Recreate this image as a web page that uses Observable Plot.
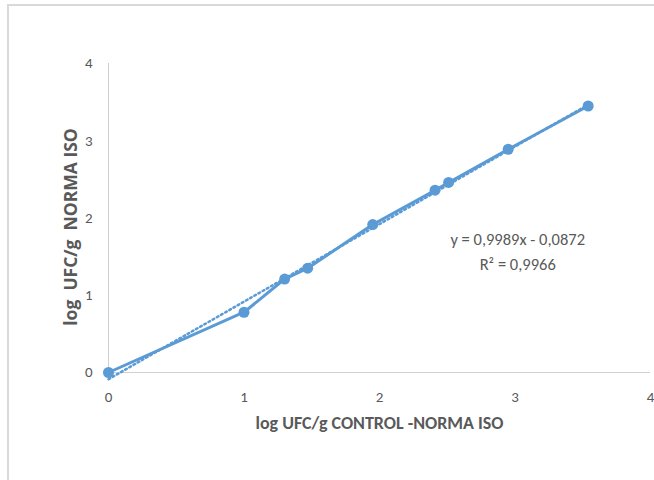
<!DOCTYPE html>
<html>
<head>
<meta charset="utf-8">
<script src="https://cdn.jsdelivr.net/npm/d3@7"></script>
<script src="https://cdn.jsdelivr.net/npm/@observablehq/plot@0.6"></script>
<style>
  html, body { margin: 0; padding: 0; background: #fff; }
  #wrap { position: relative; width: 654px; height: 480px; overflow: hidden; }
  #border { position: absolute; left: 7px; top: 4px; width: 700px; height: 520px; border: 2px solid #d9d9d9; box-sizing: border-box; }
  #chart { position: absolute; left: 0; top: 0; }
</style>
</head>
<body>
<div id="wrap"><div id="border"></div><div id="chart"></div></div>
<script>
// Data
const controlLog = [0, 1.00, 1.30, 1.47, 1.95, 2.41, 2.51, 2.95, 3.54];
const isoLog     = [0, 0.78, 1.21, 1.35, 1.915, 2.36, 2.46, 2.89, 3.45];
const tickValues = [0, 1, 2, 3, 4];
const xTitle = "log UFC/g CONTROL -NORMA ISO";
const yTitle = "log\u00a0 UFC/g\u00a0 NORMA ISO";
const equationLines = ["y = 0,9989x - 0,0872", "R² = 0,9966"];
const equationPos = [{x: 3.02, y: 1.72}, {x: 3.02, y: 1.395}];

const data = controlLog.map((x, i) => ({x, y: isoLog[i]}));
const eq = equationLines.map((t, i) => ({text: t, ...equationPos[i]}));

const blue = "#5B9BD5";
const gray = "#595959";
const axisGray = "#d0d0d0";

const chart = Plot.plot({
  width: 654,
  height: 480,
  marginLeft: 108,
  marginRight: 4,
  marginTop: 63,
  marginBottom: 108,
  style: {fontFamily: "Carlito, Lato, sans-serif", fontSize: "15px", color: gray, background: "transparent"},
  x: {domain: [0, 4], ticks: tickValues, tickFormat: d => String(d), tickSize: 0, tickPadding: 19, label: null},
  y: {domain: [0, 4], ticks: tickValues, tickFormat: d => String(d), tickSize: 0, tickPadding: 16, label: null},
  marks: [
    Plot.ruleY([0], {stroke: axisGray, strokeWidth: 1}),
    Plot.ruleX([0], {stroke: axisGray, strokeWidth: 1}),
    Plot.linearRegressionY(data, {x: "x", y: "y", ci: 0, stroke: blue, strokeWidth: 2.5, strokeDasharray: "1.8,3"}),
    Plot.line(data, {x: "x", y: "y", stroke: blue, strokeWidth: 3}),
    Plot.dot(data, {x: "x", y: "y", r: 5.5, fill: blue, stroke: "none"}),
    Plot.text(eq, {x: "x", y: "y", text: "text", fill: gray, fontSize: 16.5, textAnchor: "middle"}),
    Plot.text([xTitle], {frameAnchor: "bottom", dy: 56, fill: gray, fontSize: 18, fontWeight: "bold"}),
    Plot.text([yTitle], {frameAnchor: "left", dx: -37, dy: 9, rotate: -90, textAnchor: "middle", fill: gray, fontSize: 17.5, fontWeight: "bold", fontFamily: "'Open Sans', sans-serif"})
  ]
});
document.getElementById("chart").appendChild(chart);
</script>
</body>
</html>
